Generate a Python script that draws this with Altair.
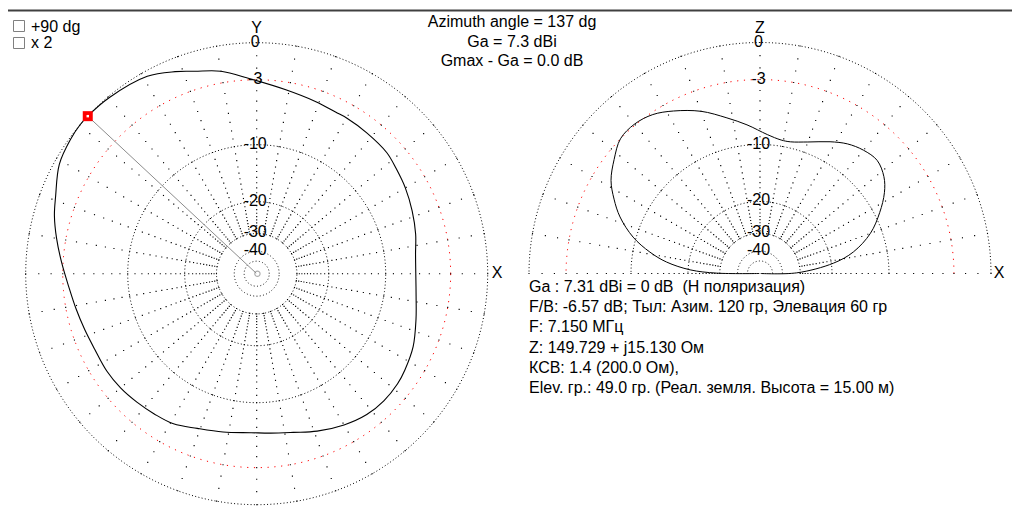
import altair as alt
import numpy as np
import pandas as pd

# ---------------- data ----------------
# horizontal (azimuth) pattern, dB relative to Gmax
az_deg = [0, 7, 14, 22, 30, 37, 43, 52, 60, 64, 71, 81, 92, 100, 107, 112, 119, 130, 137, 140,
          144, 151, 159, 164, 170, 177, 184, 191, 198, 205, 213, 220, 227, 234, 241, 249, 258,
          268, 275, 283, 291, 300, 308, 315, 322, 327, 335, 344, 352, 360]
az_db = [-6.4, -6.3, -5.9, -5.5, -5.1, -4.8, -4.5, -4.4, -4.3, -4.3, -4.1, -3.7, -2.9, -2.0, -1.5,
         -1.0, -0.4, -0.1, 0.0, 0.0, -0.1, -0.4, -1.2, -1.6, -2.2, -2.9, -3.5, -3.9, -4.2, -4.4,
         -4.4, -4.5, -4.7, -4.9, -5.1, -5.7, -6.1, -6.4, -6.3, -6.0, -5.4, -4.8, -4.4, -4.3, -4.4,
         -4.6, -5.0, -5.7, -6.2, -6.4]

# vertical (elevation) pattern
el_deg = [0, 1, 8, 13, 20, 27, 33, 38, 44, 50, 56, 62, 70, 77, 81, 87, 95, 102, 110, 118, 124,
          130, 136, 142, 148, 153, 158, 164, 169, 173, 177, 179.5, 180]
el_db = [-99, -31.6, -19.5, -15.1, -11.6, -9.3, -7.6, -6.6, -6.0, -6.2, -6.7, -7.5, -8.6, -9.2,
         -9.2, -8.7, -7.5, -6.4, -5.0, -3.9, -3.2, -2.9, -3.0, -3.8, -4.7, -5.9, -7.3, -9.6,
         -12.4, -15.4, -20.5, -28.7, -99]

ring_db = [0, -10, -20, -30, -40, -50]
red_ring_db = [-3]
label_db = [0, -3, -10, -20, -30, -40]
label_txt = ["0", "-3", "-10", "-20", "-30", "-40"]

marker_az = 137
marker_db = 0.0

title_lines = ["Azimuth angle = 137 dg", "Ga = 7.3 dBi", "Gmax - Ga = 0.0 dB"]
info_lines = [
    "Ga : 7.31 dBi = 0 dB \u00a0(H поляризация)",
    "F/B: -6.57 dB; Тыл: Азим. 120 гр, Элевация 60 гр",
    "F: 7.150 МГц",
    "Z: 149.729 + j15.130 Ом",
    "КСВ: 1.4 (200.0 Ом),",
    "Elev. гр.: 49.0 гр. (Реал. земля. Высота = 15.00 м)",
]
check_labels = ["+90 dg", "x 2"]

# ---------------- layout ----------------
W, H = 1004, 501
OFF = 8  # page margin, coordinates below are in window pixels
R = 231.0
CXL, CYL = 256.7, 273.7
CXR, CYR = 760.0, 273.5
FONT = "Liberation Sans"
FS = 16

XS = alt.Scale(domain=[OFF, OFF + W], nice=False, zero=False)
YS = alt.Scale(domain=[OFF, OFF + H], nice=False, zero=False, reverse=True)


def polar(ch, cx, cy):
    return ch.transform_calculate(
        rn="pow(0.89, -datum.db / 2)",
        px=f"{cx} + {R} * datum.rn * cos(datum.deg * PI / 180)",
        py=f"{cy} - {R} * datum.rn * sin(datum.deg * PI / 180)",
    )


def xy():
    return dict(x=alt.X("px:Q", scale=XS, axis=None), y=alt.Y("py:Q", scale=YS, axis=None))


def ring_frame(levels, max_deg):
    rows = []
    for lv in levels:
        for d in range(0, max_deg + 1):
            rows.append({"deg": d, "db": lv, "ring": lv})
    return pd.DataFrame(rows)


def spoke_frame(max_deg):
    rows = []
    for d in range(0, max_deg + 1, 10):
        if d == 360:
            continue
        for lv in range(-30, 1):
            rows.append({"deg": d, "db": lv})
    return pd.DataFrame(rows)


layers = []
for cx, cy, maxd in [(CXL, CYL, 360), (CXR, CYR, 180)]:
    # black rings
    layers.append(polar(alt.Chart(ring_frame(ring_db, maxd)), cx, cy).mark_line(
        color="black", strokeWidth=1, strokeDash=[1, 2.3]).encode(
        detail="ring:N", order="deg:Q", **xy()))
    # red -3 dB ring
    layers.append(polar(alt.Chart(ring_frame(red_ring_db, maxd)), cx, cy).mark_line(
        color="#ff0000", strokeWidth=1, strokeDash=[1.2, 5.6]).encode(
        detail="ring:N", order="deg:Q", **xy()))
    # spokes (dots every dB)
    layers.append(polar(alt.Chart(spoke_frame(maxd)), cx, cy).mark_square(
        color="black", size=1.3, opacity=1).encode(**xy()))
    # ring labels
    lab = pd.DataFrame({"deg": [90] * len(label_db), "db": label_db, "t": label_txt})
    layers.append(polar(alt.Chart(lab), cx, cy).mark_text(
        font=FONT, fontSize=FS, color="black", align="center", baseline="middle",
        dx=-1.5, dy=-1.0).encode(text="t:N", **xy()))

# patterns
az_df = pd.DataFrame({"deg": az_deg, "db": az_db})
el_df = pd.DataFrame({"deg": el_deg, "db": el_db})

# gray line centre -> marker
ln = pd.DataFrame({"deg": [marker_az, marker_az], "db": [-99, marker_db]})
layers.append(polar(alt.Chart(ln), CXL, CYL).mark_line(color="#8c8c8c", strokeWidth=1).encode(
    order="db:Q", **xy()))

layers.append(polar(alt.Chart(az_df), CXL, CYL).mark_line(
    color="black", strokeWidth=1.1, interpolate="catmull-rom").encode(order="deg:Q", **xy()))
layers.append(polar(alt.Chart(el_df), CXR, CYR).mark_line(
    color="black", strokeWidth=1.0, interpolate="catmull-rom").encode(order="deg:Q", **xy()))

# centre circle
cen = pd.DataFrame({"deg": [0], "db": [-99]})
layers.append(polar(alt.Chart(cen), CXL, CYL).mark_point(
    shape="circle", size=28, color="#8c8c8c", filled=False, strokeWidth=1.2).encode(**xy()))

# marker
mk = pd.DataFrame({"deg": [marker_az], "db": [marker_db]})
layers.append(polar(alt.Chart(mk), CXL, CYL).mark_square(
    size=100, color="#ff0000", opacity=1).encode(**xy()))
layers.append(polar(alt.Chart(mk), CXL, CYL).mark_square(
    size=6, color="white", opacity=1).encode(**xy()))

one = alt.Data(values=[{}])


def txt(t, x, y, align="left", baseline="alphabetic", size=FS):
    return alt.Chart(one).mark_text(
        text=t, font=FONT, fontSize=size, color="black", align=align, baseline=baseline
    ).encode(x=alt.value(x - OFF), y=alt.value(y - OFF))


# axis letters
layers.append(txt("Y", CXL, 28, "center", "middle"))
layers.append(txt("Z", CXR, 28, "center", "middle"))
layers.append(txt("X", 497, 273, "center", "middle"))
layers.append(txt("X", 999, 273, "center", "middle"))

# title block
for i, t in enumerate(title_lines):
    layers.append(txt(t, 512, 26.8 + i * 19.8, "center"))

# info block
for i, t in enumerate(info_lines):
    layers.append(txt(t, 529, 291.7 + i * 20.3, "left"))

# check boxes
for i, t in enumerate(check_labels):
    y0 = 20.5 + i * 17
    layers.append(alt.Chart(one).mark_rect(fill="white", stroke="#808080", strokeWidth=1).encode(
        x=alt.value(13.5 - OFF), x2=alt.value(24.5 - OFF),
        y=alt.value(y0 - OFF), y2=alt.value(y0 + 11 - OFF)))
    layers.append(txt(t, 31, 31.5 + i * 16.7, "left"))

# window frame line at the top
layers.append(alt.Chart(one).mark_rule(color="#404040", strokeWidth=2).encode(
    x=alt.value(0), x2=alt.value(W), y=alt.value(10.5 - OFF)))

chart = alt.layer(*layers).properties(
    width=W, height=H, padding=0, autosize="none", background="white"
).configure_view(strokeWidth=0)

chart.save("out.html", embed_options={"renderer": "svg", "actions": False})
